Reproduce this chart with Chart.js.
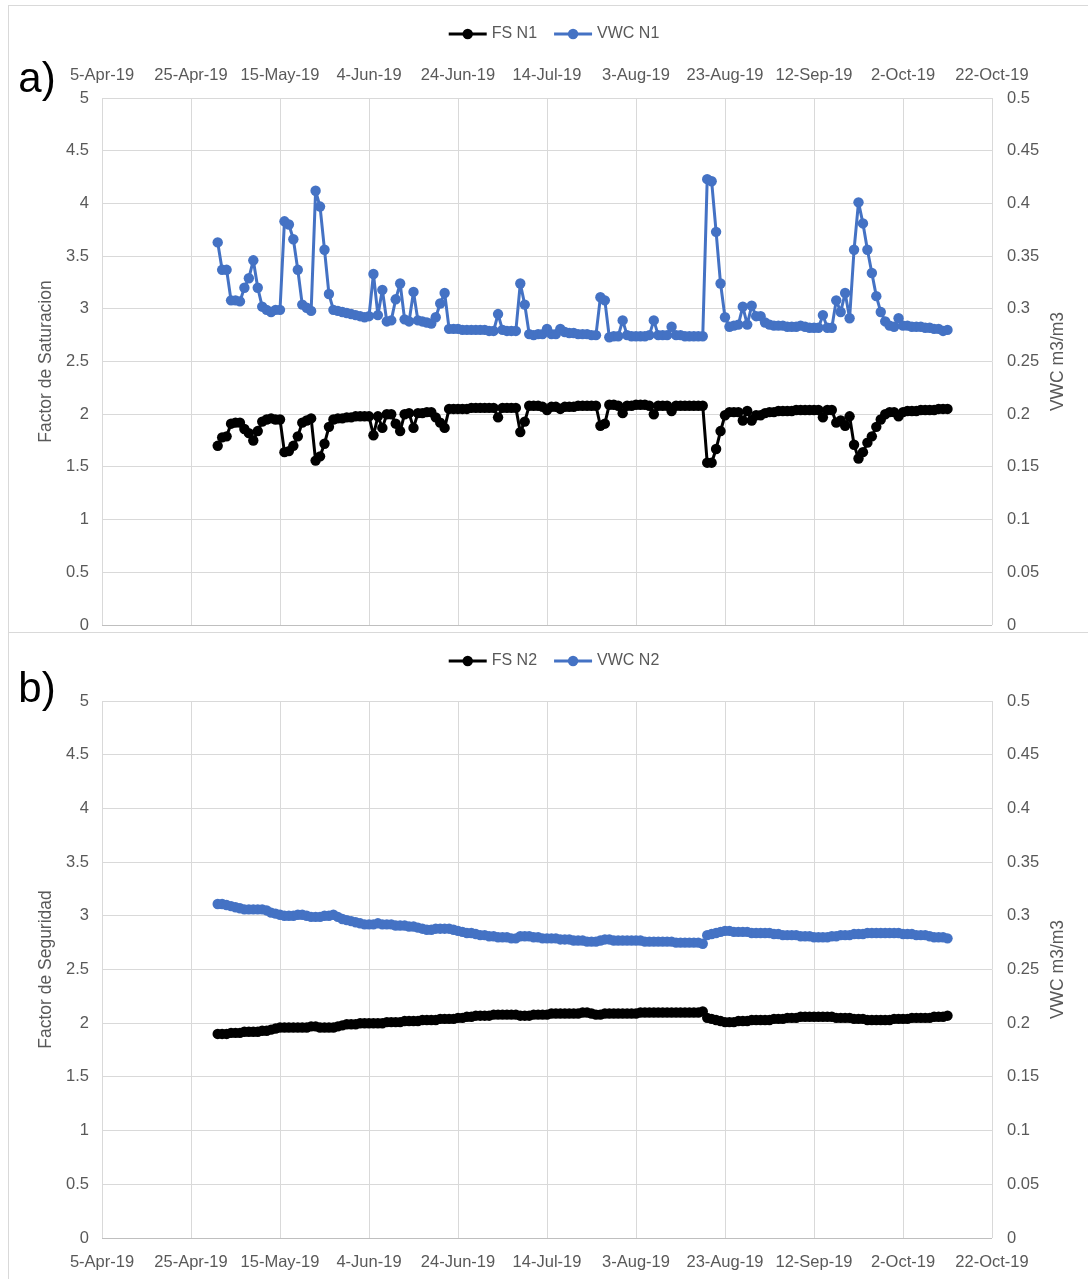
<!DOCTYPE html>
<html>
<head>
<meta charset="utf-8">
<script src="https://cdn.jsdelivr.net/npm/chart.js@4.4.1/dist/chart.umd.min.js"></script>
<style>
  html, body { margin: 0; padding: 0; background: #fff; width: 1088px; height: 1279px; overflow: hidden; position: relative; }
  .frame { position: absolute; border: 1px solid #d9d9d9; box-sizing: border-box; }
  canvas { position: absolute; left: 0; }
</style>
</head>
<body>
<div class="frame" style="left:8px;top:5px;width:1200px;height:628px"></div>
<div class="frame" style="left:8px;top:632px;width:1200px;height:700px"></div>
<canvas id="chartA" width="1088" height="632" style="top:0"></canvas>
<canvas id="chartB" width="1088" height="647" style="top:632px"></canvas>
<script>
// Date axis: 5-Apr-19 .. 22-Oct-19, a tick every 20 days
const axisStart = '2019-04-05';
const axisEnd = '2019-10-22';
const tickStepDays = 20;
const dateTicks = ['5-Apr-19', '25-Apr-19', '15-May-19', '4-Jun-19', '24-Jun-19', '14-Jul-19',
                   '3-Aug-19', '23-Aug-19', '12-Sep-19', '2-Oct-19', '22-Oct-19'];

// Daily readings start on this day
const firstReading = '2019-05-01';

// Node 1: factor of saturation and volumetric water content (m3/m3)
const fsN1 = [
  1.70, 1.78, 1.79, 1.91, 1.92, 1.92, 1.86, 1.82, 1.75, 1.84,
  1.93, 1.95, 1.96, 1.95, 1.95, 1.64, 1.65, 1.70, 1.79, 1.92,
  1.94, 1.96, 1.56, 1.60, 1.72, 1.88, 1.95, 1.96, 1.96, 1.97,
  1.97, 1.98, 1.98, 1.98, 1.98, 1.80, 1.98, 1.87, 2.00, 2.00,
  1.91, 1.84, 2.00, 2.01, 1.87, 2.01, 2.01, 2.02, 2.02, 1.97,
  1.92, 1.87, 2.05, 2.05, 2.05, 2.05, 2.05, 2.06, 2.06, 2.06,
  2.06, 2.06, 2.06, 1.97, 2.06, 2.06, 2.06, 2.06, 1.83, 1.93,
  2.08, 2.08, 2.08, 2.07, 2.04, 2.07, 2.07, 2.05, 2.07, 2.07,
  2.07, 2.08, 2.08, 2.08, 2.08, 2.08, 1.89, 1.91, 2.09, 2.09,
  2.08, 2.01, 2.08, 2.08, 2.09, 2.09, 2.09, 2.08, 2.00, 2.08,
  2.08, 2.08, 2.03, 2.08, 2.08, 2.08, 2.08, 2.08, 2.08, 2.08,
  1.54, 1.54, 1.67, 1.84, 1.99, 2.02, 2.02, 2.02, 1.94, 2.03,
  1.94, 1.99, 1.99, 2.01, 2.02, 2.02, 2.03, 2.03, 2.03, 2.03,
  2.04, 2.04, 2.04, 2.04, 2.04, 2.04, 1.97, 2.04, 2.04, 1.92,
  1.94, 1.89, 1.98, 1.71, 1.58, 1.64, 1.73, 1.79, 1.88, 1.95,
  2.00, 2.02, 2.02, 1.98, 2.02, 2.03, 2.03, 2.03, 2.04, 2.04,
  2.04, 2.04, 2.05, 2.05, 2.05
];
const vwcN1 = [
  0.363, 0.337, 0.337, 0.308, 0.308, 0.307, 0.320, 0.329, 0.346, 0.320,
  0.302, 0.299, 0.297, 0.299, 0.299, 0.383, 0.380, 0.366, 0.337, 0.304,
  0.301, 0.298, 0.412, 0.397, 0.356, 0.314, 0.299, 0.298, 0.297, 0.296,
  0.295, 0.294, 0.293, 0.292, 0.293, 0.333, 0.294, 0.318, 0.288, 0.289,
  0.309, 0.324, 0.290, 0.288, 0.316, 0.289, 0.288, 0.287, 0.286, 0.292,
  0.305, 0.315, 0.281, 0.281, 0.281, 0.280, 0.280, 0.280, 0.280, 0.280,
  0.280, 0.279, 0.279, 0.295, 0.280, 0.279, 0.279, 0.279, 0.324, 0.304,
  0.276, 0.275, 0.276, 0.276, 0.281, 0.276, 0.276, 0.281, 0.278, 0.277,
  0.277, 0.276, 0.276, 0.276, 0.275, 0.275, 0.311, 0.308, 0.273, 0.274,
  0.274, 0.289, 0.275, 0.274, 0.274, 0.274, 0.274, 0.275, 0.289, 0.275,
  0.275, 0.275, 0.283, 0.275, 0.275, 0.274, 0.274, 0.274, 0.274, 0.274,
  0.423, 0.421, 0.373, 0.324, 0.292, 0.283, 0.284, 0.285, 0.302, 0.285,
  0.303, 0.293, 0.293, 0.287, 0.285, 0.284, 0.284, 0.284, 0.283, 0.283,
  0.283, 0.284, 0.283, 0.282, 0.282, 0.282, 0.294, 0.282, 0.282, 0.308,
  0.297, 0.315, 0.291, 0.356, 0.401, 0.381, 0.356, 0.334, 0.312, 0.297,
  0.288, 0.284, 0.283, 0.291, 0.284, 0.284, 0.283, 0.283, 0.283, 0.282,
  0.282, 0.281, 0.281, 0.279, 0.280
];

// Node 2: factor of safety and volumetric water content (m3/m3)
const fsN2 = [
  1.90, 1.90, 1.90, 1.91, 1.91, 1.91, 1.92, 1.92, 1.92, 1.92,
  1.93, 1.93, 1.94, 1.95, 1.96, 1.96, 1.96, 1.96, 1.96, 1.96,
  1.96, 1.97, 1.97, 1.96, 1.96, 1.96, 1.96, 1.97, 1.98, 1.99,
  1.99, 1.99, 2.00, 2.00, 2.00, 2.00, 2.00, 2.00, 2.01, 2.01,
  2.01, 2.01, 2.02, 2.02, 2.02, 2.02, 2.03, 2.03, 2.03, 2.03,
  2.04, 2.04, 2.04, 2.04, 2.05, 2.05, 2.06, 2.06, 2.07, 2.07,
  2.07, 2.07, 2.08, 2.08, 2.08, 2.08, 2.08, 2.08, 2.07, 2.07,
  2.07, 2.08, 2.08, 2.08, 2.08, 2.09, 2.09, 2.09, 2.09, 2.09,
  2.09, 2.09, 2.10, 2.10, 2.09, 2.08, 2.08, 2.09, 2.09, 2.09,
  2.09, 2.09, 2.09, 2.09, 2.09, 2.10, 2.10, 2.10, 2.10, 2.10,
  2.10, 2.10, 2.10, 2.10, 2.10, 2.10, 2.10, 2.10, 2.10, 2.11,
  2.05, 2.04, 2.03, 2.02, 2.01, 2.01, 2.01, 2.02, 2.02, 2.02,
  2.03, 2.03, 2.03, 2.03, 2.03, 2.04, 2.04, 2.04, 2.05, 2.05,
  2.05, 2.06, 2.06, 2.06, 2.06, 2.06, 2.06, 2.06, 2.06, 2.05,
  2.05, 2.05, 2.05, 2.04, 2.04, 2.04, 2.03, 2.03, 2.03, 2.03,
  2.03, 2.03, 2.04, 2.04, 2.04, 2.04, 2.05, 2.05, 2.05, 2.05,
  2.05, 2.06, 2.06, 2.06, 2.07
];
const vwcN2 = [
  0.311, 0.311, 0.310, 0.309, 0.308, 0.307, 0.306, 0.306, 0.306, 0.306,
  0.306, 0.305, 0.303, 0.302, 0.301, 0.300, 0.300, 0.300, 0.301, 0.301,
  0.300, 0.299, 0.299, 0.299, 0.300, 0.300, 0.301, 0.299, 0.297, 0.296,
  0.295, 0.294, 0.293, 0.292, 0.292, 0.292, 0.293, 0.292, 0.292, 0.292,
  0.291, 0.291, 0.291, 0.290, 0.290, 0.289, 0.288, 0.287, 0.287, 0.288,
  0.288, 0.288, 0.288, 0.287, 0.286, 0.285, 0.284, 0.284, 0.283, 0.282,
  0.282, 0.281, 0.281, 0.280, 0.280, 0.280, 0.279, 0.279, 0.281, 0.281,
  0.281, 0.280, 0.280, 0.279, 0.279, 0.279, 0.279, 0.278, 0.278, 0.278,
  0.277, 0.277, 0.277, 0.276, 0.276, 0.276, 0.277, 0.278, 0.278, 0.277,
  0.277, 0.277, 0.277, 0.277, 0.277, 0.277, 0.276, 0.276, 0.276, 0.276,
  0.276, 0.276, 0.276, 0.275, 0.275, 0.275, 0.275, 0.275, 0.275, 0.274,
  0.282, 0.283, 0.284, 0.285, 0.286, 0.286, 0.285, 0.285, 0.285, 0.285,
  0.284, 0.284, 0.284, 0.284, 0.284, 0.283, 0.283, 0.282, 0.282, 0.282,
  0.282, 0.281, 0.281, 0.281, 0.280, 0.280, 0.280, 0.280, 0.281, 0.281,
  0.282, 0.282, 0.282, 0.283, 0.283, 0.283, 0.284, 0.284, 0.284, 0.284,
  0.284, 0.284, 0.284, 0.284, 0.283, 0.283, 0.283, 0.282, 0.282, 0.282,
  0.281, 0.280, 0.280, 0.280, 0.279
];

const DAY_MS = 86400000;
const FONT = "'Liberation Sans', Arial, sans-serif";
const TEXT_GREY = '#595959';
const GRID_GREY = '#d9d9d9';
const BLUE = '#4472C4';
const MARKER_R = 5.2;

function dayNumber(iso) {
  const [y, m, d] = iso.split('-').map(Number);
  return Math.round(Date.UTC(y, m - 1, d) / DAY_MS);
}
function toPoints(values) {
  const d0 = dayNumber(firstReading);
  return values.map((v, i) => ({ x: d0 + i, y: v }));
}
const numLabel = v => String(+Number(v).toFixed(2));

// Legend, panel letter and secondary-axis title
const panelDecor = {
  id: 'panelDecor',
  afterDraw(chart, args, o) {
    const ctx = chart.ctx;
    const area = chart.chartArea;
    ctx.save();
    ctx.textBaseline = 'middle';

    ctx.fillStyle = '#000';
    ctx.font = '42px ' + FONT;
    ctx.textAlign = 'center';
    ctx.fillText(o.letter, o.letterX, o.letterY);

    ctx.font = '16px ' + FONT;
    const sym = 38, gapText = 5, gapItem = 17;
    const items = chart.data.datasets.map(ds => ({ ds, w: ctx.measureText(ds.label).width }));
    const total = items.reduce((s, it) => s + sym + gapText + it.w, 0) + gapItem * (items.length - 1);
    let x = o.legendX - total / 2;
    items.forEach(it => {
      ctx.strokeStyle = it.ds.borderColor;
      ctx.lineWidth = 3;
      ctx.beginPath();
      ctx.moveTo(x, o.legendY);
      ctx.lineTo(x + sym, o.legendY);
      ctx.stroke();
      ctx.fillStyle = it.ds.borderColor;
      ctx.beginPath();
      ctx.arc(x + sym / 2, o.legendY, MARKER_R, 0, Math.PI * 2);
      ctx.fill();
      ctx.fillStyle = TEXT_GREY;
      ctx.textAlign = 'left';
      ctx.fillText(it.ds.label, x + sym + gapText, o.legendY);
      x += sym + gapText + it.w + gapItem;
    });

    ctx.translate(o.rightTitleX, (area.top + area.bottom) / 2);
    ctx.rotate(-Math.PI / 2);
    ctx.font = '17.5px ' + FONT;
    ctx.textAlign = 'center';
    ctx.fillStyle = TEXT_GREY;
    ctx.fillText(o.rightTitle, 0, 0);
    ctx.restore();
  }
};

function buildPanel(canvasId, cfg) {
  const tickFont = { family: FONT, size: 16.5 };
  const lineStyle = color => ({
    borderColor: color, backgroundColor: color, borderWidth: 3,
    borderJoinStyle: 'round', borderCapStyle: 'round',
    pointRadius: MARKER_R, pointHoverRadius: MARKER_R, pointBorderWidth: 0,
    pointBackgroundColor: color, tension: 0
  });
  const noPad = s => { s.paddingTop = 0; s.paddingBottom = 0; s.paddingLeft = 0; s.paddingRight = 0; };
  return new Chart(document.getElementById(canvasId), {
    type: 'line',
    data: {
      datasets: [
        Object.assign({ label: cfg.fsLabel, data: toPoints(cfg.fs), yAxisID: 'y' }, lineStyle('#000000')),
        Object.assign({ label: cfg.vwcLabel, data: toPoints(cfg.vwc), yAxisID: 'y1' }, lineStyle(BLUE))
      ]
    },
    options: {
      responsive: false,
      animation: false,
      devicePixelRatio: 1,
      layout: { padding: { left: 0, right: 0, top: cfg.padTop, bottom: cfg.padBottom } },
      plugins: {
        legend: { display: false },
        tooltip: { enabled: false },
        panelDecor: {
          letter: cfg.letter, letterX: 37, letterY: cfg.letterY,
          legendX: 554, legendY: cfg.legendY,
          rightTitle: 'VWC m3/m3', rightTitleX: 1058
        }
      },
      scales: {
        x: {
          type: 'linear',
          position: cfg.xPos,
          min: dayNumber(axisStart),
          max: dayNumber(axisEnd),
          ticks: {
            stepSize: tickStepDays, autoSkip: false, maxRotation: 0, minRotation: 0,
            color: TEXT_GREY, font: tickFont, padding: cfg.xTickPad,
            callback: (v, i) => dateTicks[i]
          },
          grid: { color: GRID_GREY, drawTicks: false, lineWidth: 1 },
          border: { display: false },
          afterFit: s => { s.height = cfg.xHeight; noPad(s); }
        },
        y: {
          position: 'left',
          min: 0, max: 5,
          ticks: { stepSize: 0.5, color: TEXT_GREY, font: tickFont, padding: 13, callback: numLabel },
          grid: {
            drawTicks: false, lineWidth: 1,
            color: c => (c.tick && c.tick.value === 0 ? '#bfbfbf' : GRID_GREY)
          },
          border: { display: false },
          title: {
            display: true, text: cfg.leftTitle, color: TEXT_GREY,
            font: { family: FONT, size: 17.5 }, padding: { top: 36, bottom: 0 }
          },
          afterFit: s => { s.width = 102; noPad(s); }
        },
        y1: {
          position: 'right',
          min: 0, max: 0.5,
          ticks: { stepSize: 0.05, color: TEXT_GREY, font: tickFont, padding: 15, callback: numLabel },
          grid: { display: false, drawTicks: false },
          border: { display: false },
          afterFit: s => { s.width = 96; noPad(s); }
        }
      }
    },
    plugins: [panelDecor]
  });
}

buildPanel('chartA', {
  letter: 'a)', letterY: 80, legendY: 34,
  fsLabel: 'FS N1', vwcLabel: 'VWC N1', fs: fsN1, vwc: vwcN1,
  leftTitle: 'Factor de Saturacion',
  xPos: 'top', xHeight: 98, xTickPad: 13, padTop: 0, padBottom: 7
});

buildPanel('chartB', {
  letter: 'b)', letterY: 58, legendY: 29,
  fsLabel: 'FS N2', vwcLabel: 'VWC N2', fs: fsN2, vwc: vwcN2,
  leftTitle: 'Factor de Seguridad',
  xPos: 'bottom', xHeight: 41, xTickPad: 15, padTop: 69, padBottom: 0
});
</script>
</body>
</html>
